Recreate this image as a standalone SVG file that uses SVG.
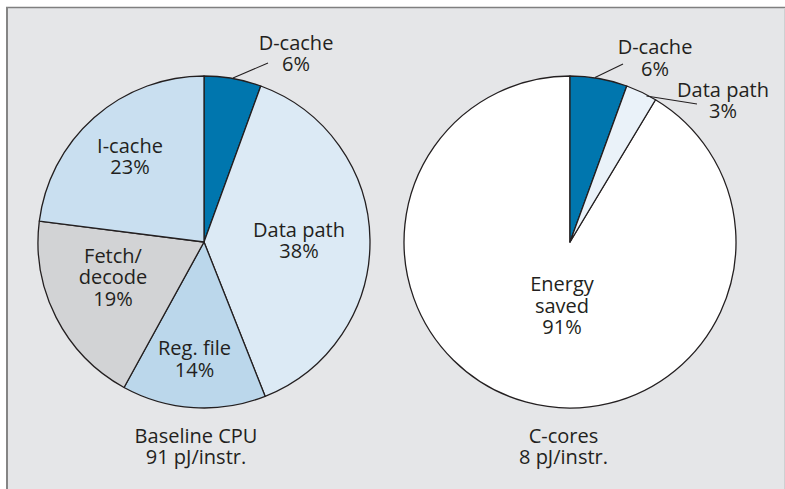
<svg xmlns="http://www.w3.org/2000/svg" width="785" height="489" viewBox="0 0 785 489">
  <style>
    .slice { stroke: #231f20; stroke-width: 1.3; stroke-linejoin: round; }
    .lead { stroke: #231f20; stroke-width: 1.1; fill: none; }
    text { font-family: "Open Sans", "Noto Sans", "DejaVu Sans", sans-serif; font-size: 20px; fill: #231f20; text-anchor: middle; }
  </style>

  <!-- panel -->
  <rect x="0" y="0" width="785" height="489" fill="#ffffff"/>
  <rect x="7" y="8" width="778" height="481" fill="#e5e6e8"/>
  <line x1="6" y1="7.5" x2="785" y2="7.5" stroke="#7f7f7f" stroke-width="1.6"/>
  <line x1="7" y1="7" x2="7" y2="489" stroke="#858585" stroke-width="2"/>
  <line x1="784.5" y1="8" x2="784.5" y2="489" stroke="#cfd0d2" stroke-width="1"/>

  <!-- Baseline CPU pie, centre (204,242), r 166 -->
  <g id="baseline-pie">
    <path id="slice-dcache-a" class="slice" fill="#0076ae" d="M204,242 L204,76 A166,166 0 0 1 260.78,86.01 Z"/>
    <path id="slice-datapath-a" class="slice" fill="#dceaf5" d="M204,242 L260.78,86.01 A166,166 0 0 1 265.11,396.34 Z"/>
    <path id="slice-regfile" class="slice" fill="#bbd7eb" d="M204,242 L265.11,396.34 A166,166 0 0 1 124.03,387.47 Z"/>
    <path id="slice-fetch" class="slice" fill="#d2d3d5" d="M204,242 L124.03,387.47 A166,166 0 0 1 39.31,221.20 Z"/>
    <path id="slice-icache" class="slice" fill="#c9dff0" d="M204,242 L39.31,221.20 A166,166 0 0 1 204,76 Z"/>
  </g>

  <!-- C-cores pie, centre (570,242), r 166 -->
  <g id="ccores-pie">
    <path id="slice-saved" class="slice" fill="#ffffff" d="M570,242 L655.50,99.71 A166,166 0 1 1 570,76 Z"/>
    <path id="slice-dcache-b" class="slice" fill="#0076ae" d="M570,242 L570,76 A166,166 0 0 1 626.78,86.01 Z"/>
    <path id="slice-datapath-b" class="slice" fill="#eaf2f9" d="M570,242 L626.78,86.01 A166,166 0 0 1 655.50,99.71 Z"/>
  </g>

  <!-- leader lines -->
  <g id="leaders">
    <line class="lead" x1="233" y1="78" x2="268" y2="63"/>
    <line class="lead" x1="595" y1="77.5" x2="623" y2="64"/>
    <line class="lead" x1="646.5" y1="96" x2="697" y2="104"/>
  </g>

  <!-- labels, baseline pie -->
  <g id="label-dcache-a"><text x="296" y="50">D-cache</text><text x="296" y="71">6%</text></g>
  <g id="label-icache"><text x="130" y="153">I-cache</text><text x="130" y="174">23%</text></g>
  <g id="label-datapath-a"><text x="299" y="237">Data path</text><text x="299" y="258">38%</text></g>
  <g id="label-fetch"><text x="113" y="263">Fetch/</text><text x="113" y="284">decode</text><text x="113" y="305.5">19%</text></g>
  <g id="label-regfile"><text x="194.5" y="355">Reg. file</text><text x="194.5" y="376.5">14%</text></g>
  <g id="caption-baseline"><text x="196" y="443">Baseline CPU</text><text x="196" y="463.5">91 pJ/instr.</text></g>

  <!-- labels, C-cores pie -->
  <g id="label-dcache-b"><text x="655" y="54">D-cache</text><text x="655" y="76">6%</text></g>
  <g id="label-datapath-b"><text x="723" y="97">Data path</text><text x="723" y="118">3%</text></g>
  <g id="label-saved"><text x="562" y="291">Energy</text><text x="562" y="312.5">saved</text><text x="562" y="334">91%</text></g>
  <g id="caption-ccores"><text x="563.5" y="443">C-cores</text><text x="563.5" y="463.5">8 pJ/instr.</text></g>
</svg>
